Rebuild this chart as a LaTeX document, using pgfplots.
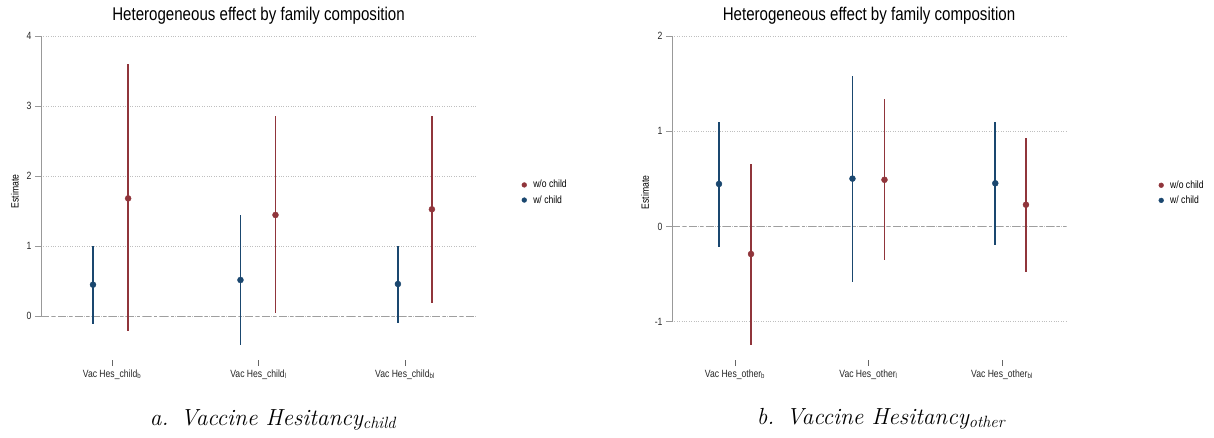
\documentclass[border=0pt]{standalone}
\usepackage{fontspec}
\setmainfont[FakeStretch=0.82]{Liberation Sans}
\newfontfamily\lmr{Latin Modern Roman}
\usepackage{pgfplots}
\usepackage{pgfplotstable}
\pgfplotsset{compat=1.18}
\definecolor{snavy}{RGB}{26,71,111}
\definecolor{smaroon}{RGB}{144,53,59}

% estimates with 95% CI (x, point, lower, upper)
\pgfplotstableread{
x     y      lo      hi
1.110 1.680 -0.220  3.595
2.116 1.443  0.040  2.850
3.184 1.524  0.190  2.857
}\childRed
\pgfplotstableread{
x     y      lo      hi
0.870 0.447 -0.110  1.000
1.877 0.514 -0.414  1.443
2.952 0.457 -0.095  1.000
}\childBlue
\pgfplotstableread{
x     y      lo      hi
1.120 -0.290 -1.245  0.660
2.120  0.490 -0.350  1.337
3.180  0.228 -0.474  0.926
}\otherRed
\pgfplotstableread{
x     y      lo      hi
0.880 0.446 -0.217  1.099
1.880 0.502 -0.579  1.576
2.950 0.453 -0.193  1.099
}\otherBlue

\pgfplotsset{
  stata/.style={
    scale only axis, height=324pt, clip=false,
    axis x line*=bottom, axis y line*=left,
    x axis line style={draw=none}, y axis line style={draw=none},
    tick align=outside, major tick length=6pt,
    xtick={1,2,3},
    xtick style={draw=black!60, line width=0.6pt},
    ytick style={draw=gray!80, line width=0.6pt},
    ymajorgrids, grid style={dotted, gray!50, line width=0.7pt},
    tick label style={font=\fontsize{10.5}{12}\selectfont, text=black!85},
    /pgf/number format/assume math mode=true,
    ylabel={Estimate},
    ylabel style={font=\fontsize{10.5}{12}\selectfont, anchor=center},
    title={Heterogeneous effect by family composition},
    title style={font=\fontsize{18.4}{20}\selectfont, anchor=center},
    legend style={draw=none, fill=none, anchor=west, inner sep=0pt,
      font=\fontsize{10.5}{12}\selectfont, row sep=2pt},
    legend cell align=left,
    legend image code/.code={\draw[#1, mark size=2.4pt] plot coordinates {(0pt,0pt)};
      \path[draw=none] (0pt,0pt) -- (7pt,0pt);},
  },
  ci/.style={only marks, mark=*, mark size=3pt, color=#1,
    error bars/.cd, y dir=both, y explicit, error mark=none,
    error bar style={line width=1.7pt, color=#1}},
}

\begin{document}
\begin{tikzpicture}[x=1pt, y=1pt]
\useasboundingbox (0,0) rectangle (1214,437);

\begin{axis}[stata, at={(41pt,77pt)}, anchor=south west, width=435pt,
  xmin=0.515, xmax=3.485, ymin=-0.629, ymax=4, ytick={0,1,2,3,4},
  xticklabels={Vac Hes\_child\textsubscript{b}, Vac Hes\_child\textsubscript{l}, Vac Hes\_child\textsubscript{bl}},
  title style={at={(axis description cs:0.5,1.044)}},
  ylabel style={at={(axis description cs:-0.06,0.52)}},
  legend style={at={(axis description cs:1.105,0.517)}}]
\addplot[gray!75, line width=0.9pt, dash pattern=on 8pt off 3pt on 3pt off 3pt, forget plot]
  coordinates {(0.515,0) (3.485,0)};
\addplot[gray!80, line width=0.7pt, forget plot] coordinates {(0.515,0) (0.515,4)};
\addplot[ci=smaroon] table[x=x, y=y, y error plus expr=\thisrow{hi}-\thisrow{y},
  y error minus expr=\thisrow{y}-\thisrow{lo}] {\childRed};
\addplot[ci=snavy] table[x=x, y=y, y error plus expr=\thisrow{hi}-\thisrow{y},
  y error minus expr=\thisrow{y}-\thisrow{lo}] {\childBlue};
\legend{w/o child, w/ child}
\end{axis}

\begin{axis}[stata, at={(672pt,77pt)}, anchor=south west, width=394pt,
  xmin=0.528, xmax=3.48, ymin=-1.403, ymax=2, ytick={-1,0,1,2},
  xticklabels={Vac Hes\_other\textsubscript{b}, Vac Hes\_other\textsubscript{l}, Vac Hes\_other\textsubscript{bl}},
  title style={at={(axis description cs:0.5,1.044)}},
  ylabel style={at={(axis description cs:-0.0685,0.517)}},
  legend style={at={(axis description cs:1.235,0.516)}}]
\addplot[gray!75, line width=0.9pt, dash pattern=on 8pt off 3pt on 3pt off 3pt, forget plot]
  coordinates {(0.528,0) (3.48,0)};
\addplot[gray!80, line width=0.7pt, forget plot] coordinates {(0.528,-1) (0.528,2)};
\addplot[ci=smaroon] table[x=x, y=y, y error plus expr=\thisrow{hi}-\thisrow{y},
  y error minus expr=\thisrow{y}-\thisrow{lo}] {\otherRed};
\addplot[ci=snavy] table[x=x, y=y, y error plus expr=\thisrow{hi}-\thisrow{y},
  y error minus expr=\thisrow{y}-\thisrow{lo}] {\otherBlue};
\legend{w/o child, w/ child}
\end{axis}

\node[anchor=base, font=\fontsize{23.3}{25}\selectfont\lmr\itshape] at (273,12)
  {a.\hspace{12pt}Vaccine Hesitancy\textsubscript{child}};
\node[anchor=base, font=\fontsize{23.3}{25}\selectfont\lmr\itshape] at (881,13)
  {b.\hspace{12pt}Vaccine Hesitancy\textsubscript{other}};
\end{tikzpicture}
\end{document}
